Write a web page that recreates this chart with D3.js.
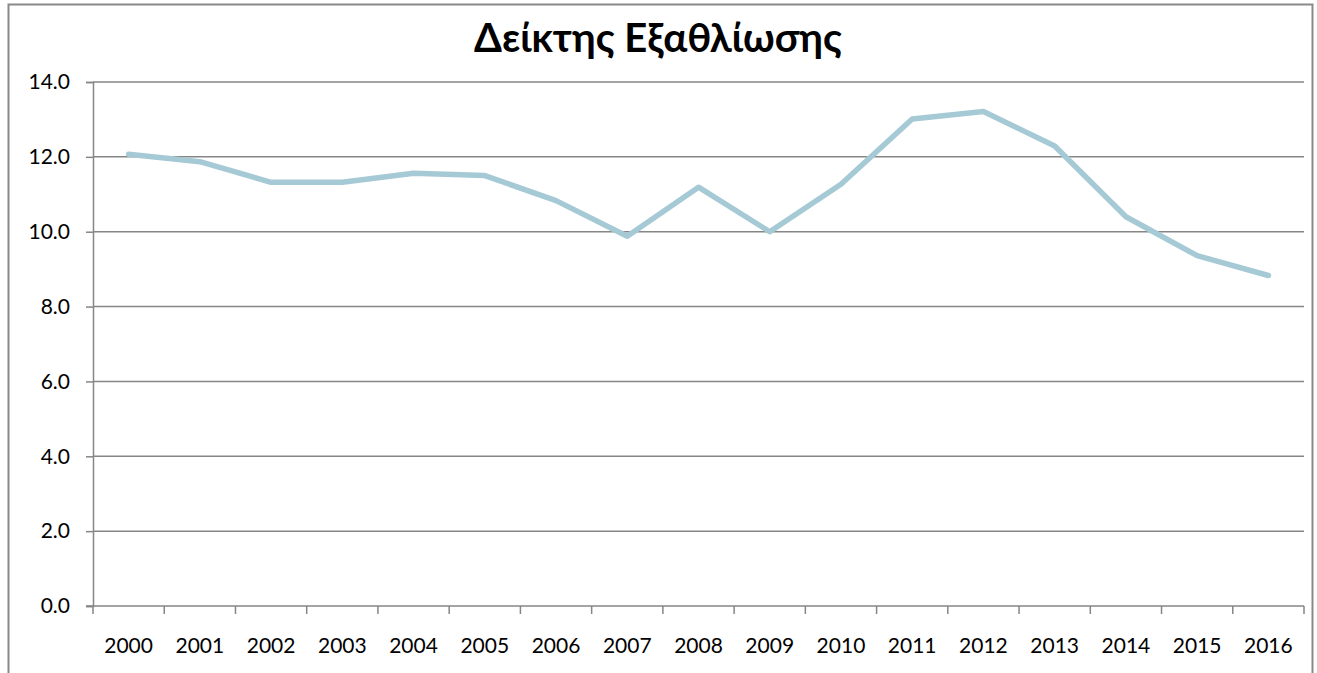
<!DOCTYPE html>
<html>
<head>
<meta charset="utf-8">
<script src="https://cdn.jsdelivr.net/npm/d3@7"></script>
<style>
  body { margin: 0; background: #fff; }
  svg { display: block; font-family: Lato, "Open Sans", sans-serif; }
</style>
</head>
<body>
<div id="chart"></div>
<script>
// data
const years = ["2000", "2001", "2002", "2003", "2004", "2005", "2006", "2007", "2008",
               "2009", "2010", "2011", "2012", "2013", "2014", "2015", "2016"];
const values = [12.07, 11.87, 11.32, 11.32, 11.56, 11.50, 10.83, 9.88, 11.19,
                10.0, 11.27, 13.01, 13.21, 12.29, 10.40, 9.36, 8.83];
const yTicks = [0, 2, 4, 6, 8, 10, 12, 14];
const title = "Δείκτης Εξαθλίωσης";

const width = 1317, height = 673;
const margin = { top: 82, right: 13, bottom: 67, left: 93 };

const svg = d3.select("#chart").append("svg")
    .attr("width", width)
    .attr("height", height);

// outer chart frame
svg.append("rect")
    .attr("x", 8.5).attr("y", 4.5)
    .attr("width", width - 13).attr("height", height + 10)
    .attr("fill", "none")
    .attr("stroke", "#898989")
    .attr("stroke-width", 2);

const x = d3.scaleBand()
    .domain(years)
    .range([margin.left, width - margin.right]);

const y = d3.scaleLinear()
    .domain([0, 14])
    .range([height - margin.bottom, margin.top]);

// gridlines
svg.append("g")
    .selectAll("line")
    .data(yTicks.filter(d => d > 0))
    .join("line")
    .attr("x1", margin.left).attr("x2", width - margin.right)
    .attr("y1", d => y(d)).attr("y2", d => y(d))
    .attr("stroke", "#868686")
    .attr("stroke-width", 1.5);

// y axis
const yAxis = svg.append("g")
    .attr("transform", "translate(" + margin.left + ",0)")
    .call(d3.axisLeft(y).tickValues(yTicks).tickFormat(d3.format(".1f")).tickSize(7).tickPadding(16));
yAxis.select(".domain").attr("stroke", "#868686").attr("stroke-width", 1.5);
yAxis.selectAll(".tick line").attr("stroke", "#868686").attr("stroke-width", 1.5);
yAxis.selectAll("text").attr("font-size", 21).attr("fill", "#000")
    .attr("font-family", "Lato, 'Open Sans', sans-serif");

// x axis with ticks between categories
const xAxisG = svg.append("g")
    .attr("transform", "translate(0," + y(0) + ")");
xAxisG.append("line")
    .attr("x1", margin.left - 7).attr("x2", width - margin.right)
    .attr("stroke", "#868686").attr("stroke-width", 1.5);
const bounds = years.map(d => x(d)).concat([x(years[years.length - 1]) + x.bandwidth()]);
xAxisG.selectAll(".tk")
    .data(bounds)
    .join("line")
    .attr("class", "tk")
    .attr("x1", d => d).attr("x2", d => d)
    .attr("y1", 0).attr("y2", 8)
    .attr("stroke", "#868686").attr("stroke-width", 1.5);
xAxisG.selectAll("text")
    .data(years)
    .join("text")
    .attr("x", d => x(d) + x.bandwidth() / 2)
    .attr("y", 47)
    .attr("text-anchor", "middle")
    .attr("font-size", 21)
    .text(d => d);

// the series
const line = d3.line()
    .x((d, i) => x(years[i]) + x.bandwidth() / 2)
    .y(d => y(d));

svg.append("path")
    .datum(values)
    .attr("d", line)
    .attr("fill", "none")
    .attr("stroke", "#A5CAD6")
    .attr("stroke-width", 5.5)
    .attr("stroke-linejoin", "round")
    .attr("stroke-linecap", "round");

// title
svg.append("text")
    .attr("x", 658)
    .attr("y", 52)
    .attr("text-anchor", "middle")
    .attr("font-size", 40)
    .attr("font-weight", "bold")
    .text(title);
</script>
</body>
</html>
